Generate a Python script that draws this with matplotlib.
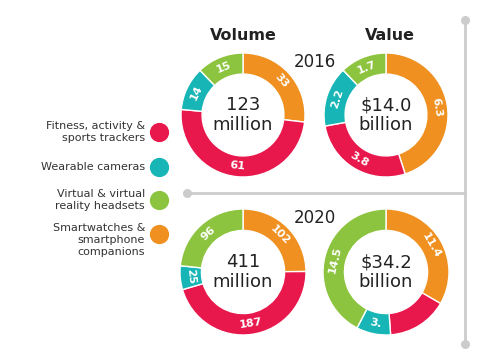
import numpy as np
import matplotlib
matplotlib.use("Agg")
import matplotlib.pyplot as plt

# data
categories = ['Fitness, activity &\nsports trackers', 'Wearable cameras',
              'Virtual & virtual\nreality headsets', 'Smartwatches &\nsmartphone\ncompanions']
colors = ['#e8184c', '#17b5b5', '#8cc43f', '#ef9020']

# clockwise order from 12 o'clock: orange, red, teal, green
vol_2016 = [33, 61, 14, 15]
val_2016 = [6.3, 3.8, 2.2, 1.7]
vol_2020 = [102, 187, 25, 96]
val_2020 = [11.4, 5.3, 3.0, 14.5]
lab_vol_2016 = ['33', '61', '14', '15']
lab_val_2016 = ['6.3', '3.8', '2.2', '1.7']
lab_vol_2020 = ['102', '187', '25', '96']
lab_val_2020 = ['11.4', '', '3.', '14.5']
centers_txt = ['123\nmillion', '$14.0\nbillion', '411\nmillion', '$34.2\nbillion']
ring_colors = [colors[3], colors[0], colors[1], colors[2]]

W, H = 482, 353
fig = plt.figure(figsize=(W / 100, H / 100), dpi=100)
ax = fig.add_axes([0, 0, 1, 1])
ax.set_xlim(0, W)
ax.set_ylim(H, 0)
ax.axis('off')

# headings
ax.text(243, 36, 'Volume', ha='center', va='center', fontsize=11.5, fontweight='bold', color='#222222')
ax.text(390, 36, 'Value', ha='center', va='center', fontsize=11.5, fontweight='bold', color='#222222')
ax.text(315, 62, '2016', ha='center', va='center', fontsize=12, color='#222222')
ax.text(315, 218, '2020', ha='center', va='center', fontsize=12, color='#222222')

# gray connector lines
ax.plot([465, 465], [20, 344], color='#cccccc', lw=2, zorder=1)
ax.plot([187, 465], [193, 193], color='#cccccc', lw=2, zorder=1)
ax.scatter([465, 465, 187], [20, 344, 193], s=30, color='#cccccc', zorder=2)

# legend
leg_y = [132, 167, 200, 234]
for lab, c, y in zip(categories, colors, leg_y):
    nlines = lab.count('\n') + 1
    ty = y if nlines < 3 else y + 6
    ax.text(145, ty, lab, ha='right', va='center', fontsize=8, color='#333333', linespacing=1.25)
    ax.scatter(159, y, s=165, color=c, zorder=3)


def donut(cx, cy, r, vals, labs, ctext):
    a = fig.add_axes([(cx - r) / W, 1 - (cy + r) / H, 2 * r / W, 2 * r / H])
    a.pie(vals, colors=ring_colors, startangle=90, counterclock=False,
          wedgeprops=dict(width=0.34, edgecolor='white', linewidth=1))
    a.set_aspect('equal')
    a.set_xlim(-1, 1)
    a.set_ylim(-1, 1)
    tot = sum(vals)
    cum = np.cumsum([0] + list(vals))
    for i, lab in enumerate(labs):
        th = (cum[i] + vals[i] / 2) / tot * 360  # clockwise from top
        rad = np.deg2rad(90 - th)
        rot = -th
        if rot < -90:
            rot += 180
        if rot < -90:
            rot += 180
        a.text(0.83 * np.cos(rad), 0.83 * np.sin(rad), lab, ha='center', va='center',
               rotation=rot, rotation_mode='anchor', fontsize=8, fontweight='bold', color='white')
    a.text(0, 0, ctext, ha='center', va='center', fontsize=13, color='#222222', linespacing=1.1)


donut(243, 115, 62, vol_2016, lab_vol_2016, centers_txt[0])
donut(386, 115, 62, val_2016, lab_val_2016, centers_txt[1])
donut(243, 272, 63, vol_2020, lab_vol_2020, centers_txt[2])
donut(386, 272, 63, val_2020, lab_val_2020, centers_txt[3])

fig.savefig('out.png', dpi=100)
